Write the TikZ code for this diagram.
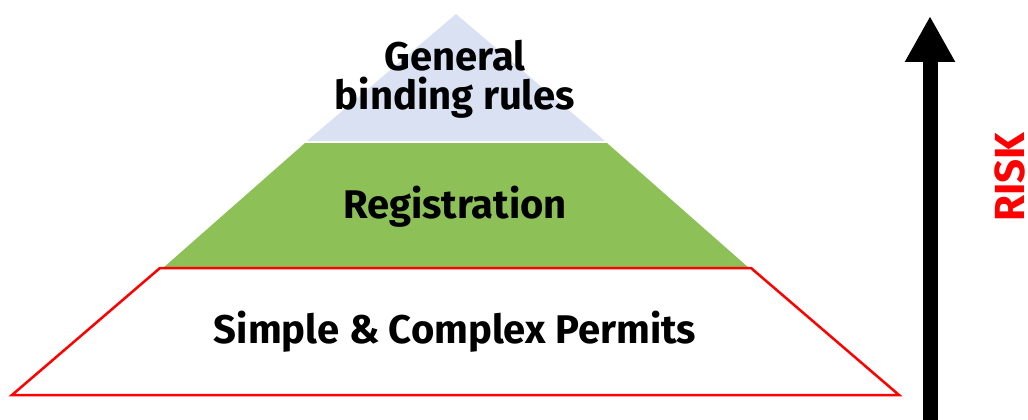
\documentclass[tikz,border=0pt]{standalone}
\usepackage{fontspec}
\setmainfont{Fira Sans}
\usetikzlibrary{arrows.meta}
\definecolor{topblue}{RGB}{217,225,242}
\definecolor{midgreen}{RGB}{141,192,87}

\begin{document}
\begin{tikzpicture}[x=1pt,y=-1pt,
		layer text/.style={font=\bfseries\fontsize{40}{39}\selectfont,
			inner sep=0pt, align=center},
		risk arrow/.style={line width=15pt,
			-{Triangle[width=47pt,length=46pt]}}]
		\useasboundingbox (0,0) rectangle (1028,420);
		%% Layers
		\fill [topblue] (456,14) -- (605,141) -- (307,141) -- cycle;
		\fill [midgreen] (305,143) -- (607,143) -- (749,268) -- (163,268) -- cycle;
		\draw [red, line width=2.5pt, fill=white] (160,268) -- (751,268) -- (899,395) -- (12,395) -- cycle;
		%% Labels
		\node [layer text] (rules) at (455,79) {General\\binding rules};
		\node [layer text, anchor=base] (reg) at (455,218) {Registration};
		\node [layer text, anchor=base] (permits) at (455,343) {Simple \& Complex Permits};
		%% Risk arrow
		\coordinate (riskfoot) at (930,420);
		\coordinate (risktop) at (930,16);
		\draw [risk arrow] (riskfoot) -- (risktop);
		\node [red, font=\bfseries\fontsize{42}{42}\selectfont, rotate=90, inner sep=0pt, anchor=base] (risk) at (1024,177) {RISK};
\end{tikzpicture}
\end{document}
